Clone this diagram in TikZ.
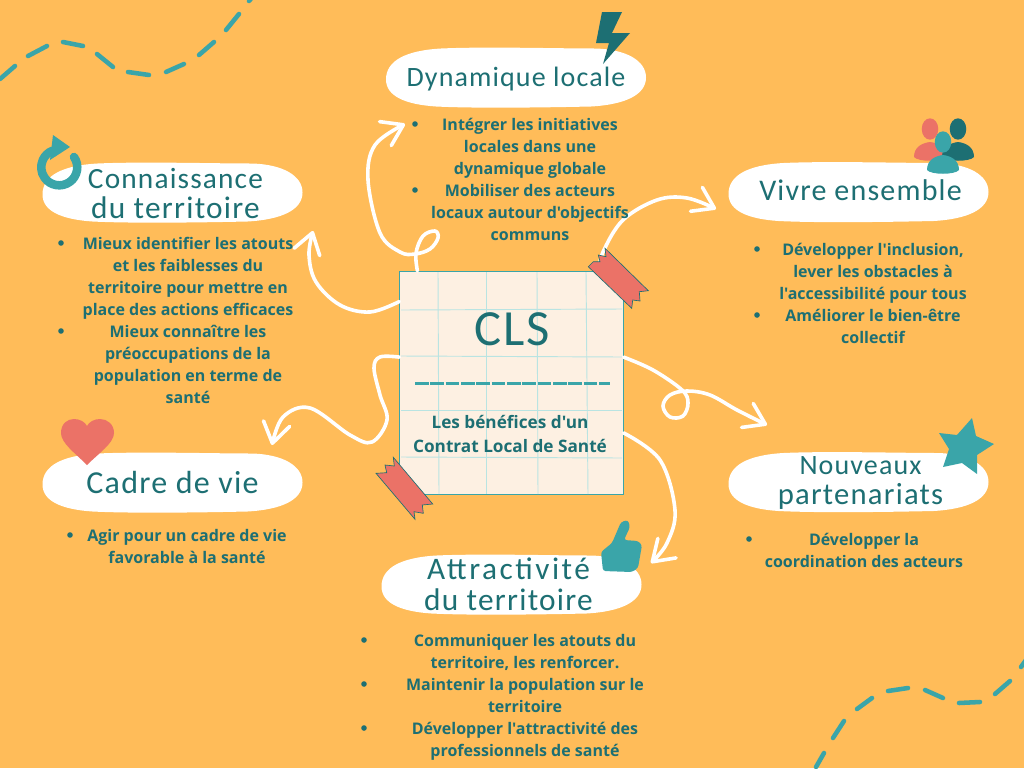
\documentclass[tikz,border=0pt]{standalone}
\usepackage{fontspec}
\usepackage{xcolor}
\usepackage{tikz}
\usetikzlibrary{arrows.meta}
\newfontfamily\corpsfont{Open Sans}[BoldFont={* Bold}]
\newfontfamily\titrefont{Carlito}[LetterSpace=4]
\newfontfamily\titrelarge{Carlito}[LetterSpace=8]
\newcommand{\grand}[2]{{\fontsize{#1}{23}\selectfont #2}}
\definecolor{fondOrange}{RGB}{255,188,89}
\definecolor{sarcelle}{RGB}{29,111,115}
\definecolor{turquoise}{RGB}{58,165,169}
\definecolor{corail}{RGB}{235,114,103}
\definecolor{papier}{RGB}{253,240,226}
\definecolor{grille}{RGB}{185,228,226}
\tikzset{
    x=0.75pt, y=-0.75pt,
    pill/.style={minimum width=195.7pt, minimum height=44.5pt, inner sep=0pt, align=center, text=sarcelle, font=\titrefont\fontsize{21}{23}\selectfont},
    item/.style={text=sarcelle, align=center, inner sep=0pt, font=\corpsfont\bfseries\fontsize{12}{16.5}\selectfont},
    puce/.style={circle, fill=sarcelle, inner sep=0pt, minimum size=4.2pt},
    note/.style={draw=turquoise, line width=0.7pt, fill=papier, minimum size=167.5pt, inner sep=0pt},
    fil/.style={draw=white, line width=2.7pt, line cap=round, line join=round},
    fleche/.style={fil, -{Straight Barb[length=15pt, width=20pt, line width=2.7pt, round]}},
    tiret/.style={turquoise, line width=3.4pt, line cap=round},
    ligne/.style={grille, line width=0.7pt},
    scotch/.style={fill=corail, draw=sarcelle, line width=0.5pt}
}
\begin{document}
\begin{tikzpicture}
    \fill[fondOrange] (0,0) rectangle (1024,768);
    \useasboundingbox (0,0) rectangle (1024,768);

    % --- TIRETS DES COINS ---
    \foreach \xa/\ya/\xb/\yb in {0/79/15/66, 28/56/47/46, 63/42/83/46, 97/54/113/67, 128/72/149/75, 166/72/184/64, 199/55/214/42, 226/30/239/14, 249/1/255/-6,
        816/767/824/753, 833/738/844/721, 857/709/872/698, 888/691/908/688, 925/690/943/698, 959/703/980/702, 995/694/1010/681, 1021/667/1026/660}
        \draw[tiret] (\xa,\ya) -- (\xb,\yb);

    % --- NOTE CENTRALE ---
    \node[note] (note) at (511.5,383) {};
    \foreach \xa/\xb in {438/439, 486/486, 537/538, 586/588}
        \draw[ligne] (\xa,272) -- (\xb,494);
    \foreach \ya/\yb in {310/309, 356/357, 410/410, 457/458}
        \draw[ligne] (401,\ya) -- (622,\yb);
    \node[text=sarcelle, font=\titrefont\fontsize{38}{38}\selectfont] (cls) at (512,329) {CLS};
    \draw[turquoise, line width=1.7pt, dash pattern=on 10.2pt off 1.3pt] (415,383.5) -- (610,383.5);
    \node[item, font=\corpsfont\bfseries\fontsize{12.9}{18}\selectfont] (soustitre) at (510,434) {Les bénéfices d'un\\Contrat Local de Santé};

    % --- FLECHES ---
    \coordinate (finDyn) at (405,124);
    \coordinate (finCon) at (313,231);
    \coordinate (finCad) at (272,445);
    \coordinate (finAtt) at (651,563);
    \coordinate (finNou) at (767,425);
    \coordinate (finViv) at (716,209);
    \draw[fleche] plot[smooth, tension=0.6] coordinates {(note.130) (416,253) (423,236) (435,231) (438,238) (430,249) (415,254) (400,252) (380,233) (368,180) (375,145) (finDyn)};
    \draw[fleche] plot[smooth, tension=0.6] coordinates {(note.144) (370,312) (340,305) (316,282) (309,255) (finCon)};
    \draw[fleche] plot[smooth, tension=0.6] coordinates {(note.167) (380,357) (374,368) (380,395) (387,420) (372,442) (350,435) (310,408) (283,417) (finCad)};
    \draw[fleche] plot[smooth, tension=0.6] coordinates {(note.-24) (660,460) (675,510) (667,543) (finAtt)};
    \draw[fleche] plot[smooth, tension=0.6] coordinates {(note.13) (653,370) (682,390) (688,403) (683,416) (670,417) (663,406) (670,395) (687,391) (710,395) (737,410) (finNou)};
    \draw[fleche] plot[smooth, tension=0.6] coordinates {(note.52) (603,252) (623,220) (657,200) (687,198) (finViv)};

    % --- SCOTCH ---
    \draw[scotch] (605,248.3) -- (606,256.7) -- (598.3,255) -- (600,261.7) -- (593.3,261.7) -- (588.3,266.7) -- (631.7,308.3) -- (632.7,300) -- (640,301) -- (639.3,291.7) -- (648.3,290.7) -- cycle;
    \draw[scotch] (393.3,457.3) -- (394.3,466) -- (385,465) -- (386.7,472.7) -- (376,473.3) -- (415,519.3) -- (414,511.7) -- (423.3,513.3) -- (422.3,505) -- (432.7,504) -- cycle;

    % --- TITRES ---
    \foreach \cx/\cy in {516/77.5, 172.5/192.5, 858.5/192, 172.5/482.5, 858.5/482, 511.5/584.5}
        \fill[white, shift={(\cx,\cy)}] (-130,2) .. controls (-130,-17) and (-110,-27) .. (-75,-29) .. controls (-30,-31) and (40,-29) .. (80,-29) .. controls (110,-28) and (130,-17) .. (130,0) .. controls (130,17) and (110,27) .. (75,29) .. controls (30,30) and (-40,31) .. (-80,29) .. controls (-110,27) and (-130,19) .. (-130,2) -- cycle;
    \node[pill] (dynamique) at (516,79.5) {Dynamique locale};
    \node[pill] (connaissance) at (175.5,193.5) {\grand{22}{Connaissance}\\\grand{23.5}{du territoire}};
    \node[pill] (vivre) at (860.5,190) {\grand{22.5}{Vivre ensemble}};
    \node[pill] (cadre) at (172.5,482.5) {\grand{24}{Cadre de vie}};
    \node[pill] (nouveaux) at (860.5,483) {Nouveaux\\\grand{23}{partenariats}};
    \node[pill] (attractivite) at (508.5,584.5) {{\titrelarge\grand{23.5}{Attractivité}}\\\grand{23.5}{du territoire}};

    % --- ICONES ---
    \fill[sarcelle] (602,12) -- (622,12) -- (612,33) -- (630,33) -- (603,64) -- (609,43) -- (596,43) -- cycle;
    \draw[turquoise, line width=6.4pt, line cap=round] (74,157) arc[start angle=35, end angle=-248, radius=13.5pt];
    \fill[turquoise] (53,135) -- (70,147) -- (50,160) -- cycle;
    \foreach \px/\py/\pc in {930/129/corail, 958/129/sarcelle, 943/142/turquoise} {
        \fill[\pc] (\px,\py) ellipse[x radius=6.2pt, y radius=8pt];
        \fill[\pc] (\px-16,\py+28) .. controls (\px-16,\py+18) and (\px-8,\py+14) .. (\px,\py+13) .. controls (\px+8,\py+14) and (\px+16,\py+18) .. (\px+16,\py+28) .. controls (\px+12,\py+33) and (\px-12,\py+33) .. (\px-16,\py+28) -- cycle;
    }
    \fill[corail] (87,465) .. controls (75,453) and (61,443) .. (61,433) .. controls (61,424) and (67,419) .. (74,419) .. controls (80,419) and (85,422) .. (87,426) .. controls (89,422) and (94,419) .. (100,419) .. controls (107,419) and (114,424) .. (114,433) .. controls (114,443) and (99,453) .. (87,465) -- cycle;
    \fill[turquoise] (972,418) -- (976,436) -- (994,444) -- (977,455) -- (977,474) -- (962,463) -- (943,467) -- (949,449) -- (939,433) -- (957,435) -- cycle;
    \fill[turquoise, rounded corners=2pt] (601,552) -- (612,543) -- (621,522) -- (628,520) -- (630,527) -- (624,540) -- (638,541) -- (642,545) -- (638,568) -- (632,572) -- (603,571) -- cycle;

    % --- LISTES ---
    \node[puce] (p1) at (415,124) {};
    \node[item] (t1) at (530,148) {Intégrer les initiatives\\locales dans une\\dynamique globale};
    \node[puce] (p2) at (415,190) {};
    \node[item] (t2) at (530,212) {Mobiliser des acteurs\\locaux autour d'objectifs\\communs};
    \node[puce] (p3) at (61,243) {};
    \node[item] (t3) at (188,278) {Mieux identifier les atouts\\et les faiblesses du\\territoire pour mettre en\\place des actions efficaces};
    \node[puce] (p4) at (61,331) {};
    \node[item] (t4) at (188,364) {Mieux connaître les\\préoccupations de la\\population en terme de\\santé};
    \node[puce] (p5) at (757,249) {};
    \node[item] (t5) at (873,273) {Développer l'inclusion,\\lever les obstacles à\\l'accessibilité pour tous};
    \node[puce] (p6) at (757,315) {};
    \node[item] (t6) at (873,326) {Améliorer le bien-être\\collectif};
    \node[puce] (p7) at (70,535) {};
    \node[item] (t7) at (187,546) {Agir pour un cadre de vie\\favorable à la santé};
    \node[puce] (p8) at (749,539) {};
    \node[item] (t8) at (864,550) {Développer la\\coordination des acteurs};
    \node[puce] (p9) at (364,640) {};
    \node[item] (t9) at (525,652) {Communiquer les atouts du\\territoire, les renforcer.};
    \node[puce] (p10) at (364,684) {};
    \node[item] (t10) at (525,695) {Maintenir la population sur le\\territoire};
    \node[puce] (p11) at (364,728) {};
    \node[item] (t11) at (525,741) {Développer l'attractivité des\\professionnels de santé};
\end{tikzpicture}
\end{document}
